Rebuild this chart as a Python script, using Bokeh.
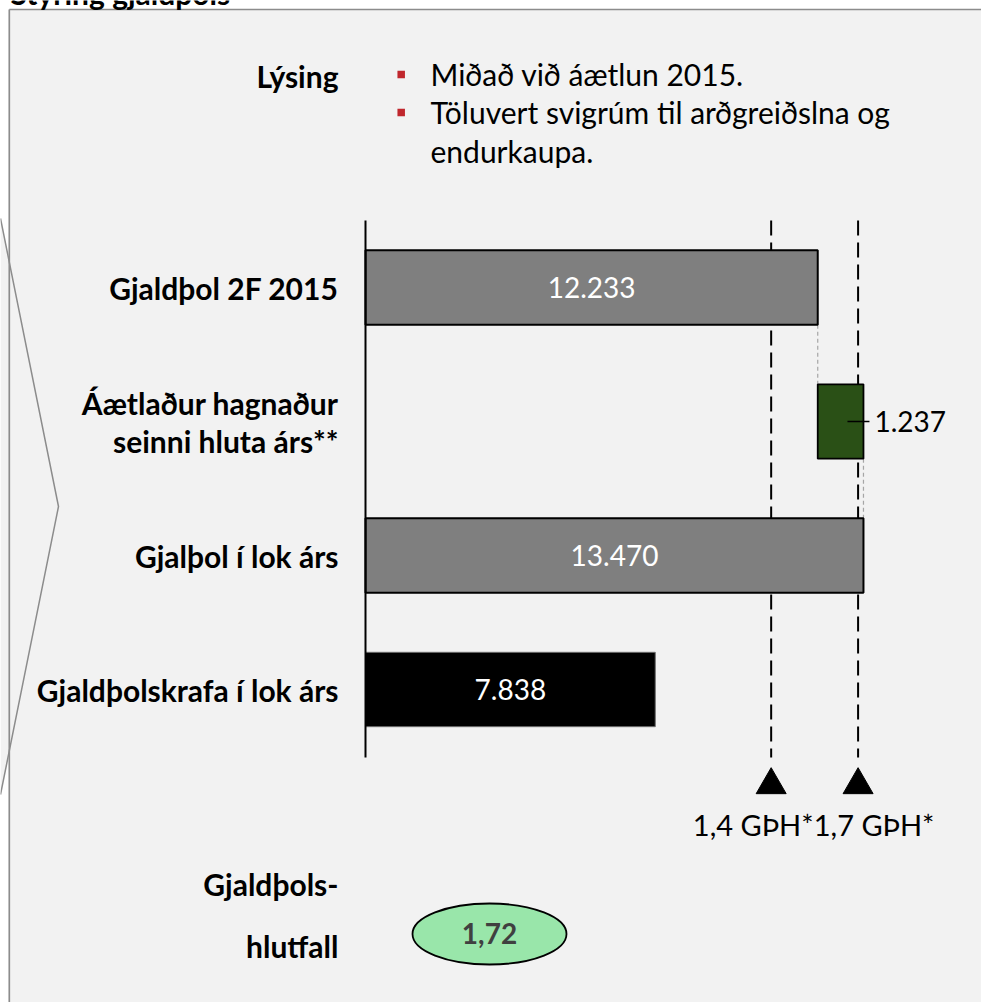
from bokeh.plotting import figure
from bokeh.models import Range1d
from bokeh.core.properties import value
from bokeh.embed import file_html
from bokeh.resources import INLINE

# ---------------- data ----------------
categories = ["Gjaldþol 2F 2015", "Áætlaður hagnaður|seinni hluta árs**",
              "Gjalþol í lok árs", "Gjaldþolskrafa í lok árs"]
values = [12233, 1237, 13470, 7838]
kinds = ["total", "delta", "total", "requirement"]
threshold_multipliers = [1.4, 1.7]
threshold_labels = ["1,4 GÞH*", "1,7 GÞH*"]
ratio_title = ["Gjaldþols-", "hlutfall"]
ratio_value = [1.72]
panel_title = "Styring gjaldþols"
description_title = "Lýsing"
description_lines = ["Miðað við áætlun 2015.", "Töluvert svigrúm til arðgreiðslna og", "endurkaupa."]
description_bullet_line = [True, True, False]

# ---------------- layout helpers ----------------
W, H = 981, 1002
K = 27.05           # value units per pixel
ZX = 365            # pixel x of value 0
ROW0 = 287          # pixel y of first bar row
ROWSTEP = 134       # pixels between rows


def px(xp):
    return (xp - ZX) * K


def row(yp):
    return (yp - ROW0) / ROWSTEP


FONT = value("Lato")
GRAY_BG = "#f2f2f2"

p = figure(width=W, height=H, output_backend="svg", toolbar_location=None,
           x_range=Range1d(px(0), px(W)),
           y_range=Range1d(row(H), row(0)),
           x_axis_location=None, y_axis_location=None, min_border=0,
           background_fill_color="white", border_fill_color="white",
           outline_line_color=None)
p.grid.visible = False

# panel background, chevron of neighbouring panel, panel border
p.quad(left=[px(8.8)], right=[px(W + 5)], top=[row(9)], bottom=[row(H + 5)],
       fill_color=GRAY_BG, line_color=None)
p.patch(x=[px(0), px(58), px(0)], y=[row(218), row(506), row(794)], fill_color=GRAY_BG, line_color=None)
p.line(x=[px(0), px(58), px(0)], y=[row(218), row(506), row(794)], line_color="#8c8c8c", line_width=1.5)
p.segment(x0=[px(8.8), px(8.8)], y0=[row(9), row(9)], x1=[px(8.8), px(W + 5)], y1=[row(H + 5), row(9)],
          line_color="#8c8c8c", line_width=1.7)
p.text(x=[px(10)], y=[row(-8)], text=[panel_title], text_color="#000000", text_font=FONT,
       text_font_size="30px", text_font_style="bold", text_align="left", text_baseline="middle")

# ---------------- bars (waterfall) ----------------
lefts, rights = [], []
running = 0
for v, k in zip(values, kinds):
    if k == "delta":
        lefts.append(running)
        rights.append(running + v)
        running += v
    else:
        lefts.append(0)
        rights.append(v)
        if k == "total":
            running = v
rows = list(range(len(values)))
fills = {"total": "#7f7f7f", "delta": "#2a5016", "requirement": "#000000"}
lines = {"total": "#000000", "delta": "#000000", "requirement": "#6e6e6e"}
lws = {"total": 2, "delta": 1.8, "requirement": 1}
BH = 0.555

# connectors
cx, cy0, cy1 = [], [], []
for i in range(len(values) - 1):
    if kinds[i + 1] == "delta" or kinds[i] == "delta":
        cx.append(rights[i])
        cy0.append(rows[i] + BH / 2)
        cy1.append(rows[i + 1] - BH / 2)
p.segment(x0=cx, y0=cy0, x1=cx, y1=cy1, line_color="#a6a6a6", line_width=1.2, line_dash="4 3")

# threshold lines
req = values[kinds.index("requirement")]
thr = [m * req for m in threshold_multipliers]
p.segment(x0=thr, y0=[row(220)] * 2, x1=thr, y1=[row(757)] * 2,
          line_color="#000000", line_width=2, line_dash="15 7")

p.hbar(y=rows, left=lefts, right=rights, height=BH,
       fill_color=[fills[k] for k in kinds], line_color=[lines[k] for k in kinds],
       line_width=[lws[k] for k in kinds])

# vertical base axis
p.segment(x0=[0], y0=[row(220)], x1=[0], y1=[row(757)], line_color="#000000", line_width=2)


# value labels
def fmt(v):
    return f"{v:,}".replace(",", ".")


in_x = [(l + r) / 2 for l, r, k in zip(lefts, rights, kinds) if k != "delta"]
in_y = [r for r, k in zip(rows, kinds) if k != "delta"]
in_t = [fmt(v) for v, k in zip(values, kinds) if k != "delta"]
p.text(x=in_x, y=in_y, text=in_t, text_color="white", text_font=FONT, text_font_size="28px",
       text_align="center", text_baseline="middle")

d = kinds.index("delta")
p.segment(x0=[rights[d] - 16 * K], y0=[rows[d]], x1=[rights[d] + 6 * K], y1=[rows[d]],
          line_color="#000000", line_width=1.5)
p.text(x=[rights[d] + 11 * K], y=[rows[d]], text=[fmt(values[d])], text_color="#000000",
       text_font=FONT, text_font_size="28px", text_align="left", text_baseline="middle")

# category labels
lab_x, lab_y, lab_t = [], [], []
for r, c in zip(rows, categories):
    parts = c.split("|")
    n = len(parts)
    for j, part in enumerate(parts):
        lab_x.append(px(338))
        lab_y.append(r + (j - (n - 1) / 2) * 38 / ROWSTEP)
        lab_t.append(part)
p.text(x=lab_x, y=lab_y, text=lab_t, text_color="#000000", text_font=FONT, text_font_size="30px",
       text_font_style="bold", text_align="right", text_baseline="middle")

# threshold markers and labels
p.scatter(x=thr, y=[row(784.5)] * 2, marker="triangle", size=30, fill_color="#000000", line_color="#000000")
label_off = [-18, 16]
p.text(x=[t + o * K for t, o in zip(thr, label_off)], y=[row(824)] * 2, text=threshold_labels,
       text_color="#000000", text_font=FONT, text_font_size="29px", text_align="center",
       text_baseline="middle")

# description
p.text(x=[px(338)], y=[row(75)], text=[description_title], text_color="#000000", text_font=FONT,
       text_font_size="30px", text_font_style="bold", text_align="right", text_baseline="middle")
p.text(x=[px(430)] * 3, y=[row(73 + 38.5 * i) for i in range(3)], text=description_lines,
       text_color="#000000", text_font=FONT, text_font_size="30px", text_align="left",
       text_baseline="middle")
bx = [px(400.7) for b in description_bullet_line if b]
by = [row(74 + 38 * i) for i, b in enumerate(description_bullet_line) if b]
p.scatter(x=bx, y=by, marker="square", size=7.5, fill_color="#c0272d", line_color=None)

# ratio
p.text(x=[px(338)] * 2, y=[row(883), row(945)], text=ratio_title, text_color="#000000", text_font=FONT,
       text_font_size="30px", text_font_style="bold", text_align="right", text_baseline="middle")
p.ellipse(x=[px(489)], y=[row(933.5)], width=[154 * K], height=[61 / ROWSTEP],
          fill_color="#99e6aa", line_color="#000000", line_width=1.8)
p.text(x=[px(489)], y=[row(932.5)], text=[f"{ratio_value[0]:.2f}".replace(".", ",")],
       text_color="#404040", text_font=FONT, text_font_size="28px", text_font_style="bold",
       text_align="center", text_baseline="middle")

open("out.html", "w").write(file_html(p, INLINE))
